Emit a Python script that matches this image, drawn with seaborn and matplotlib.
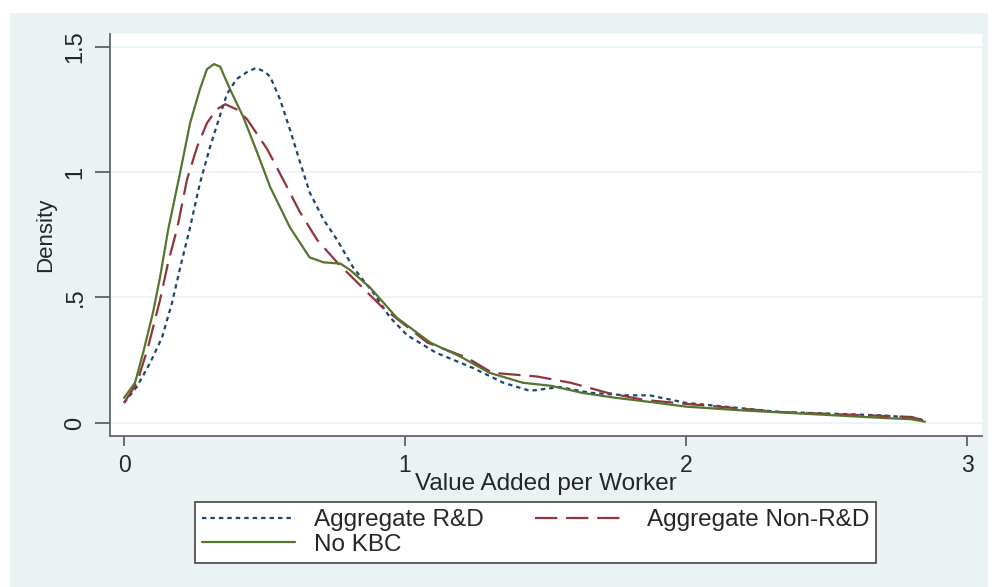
import matplotlib
matplotlib.use("Agg")
import pandas as pd
import seaborn as sns
from matplotlib import pyplot as plt
from matplotlib.patches import Rectangle

# values (kernel density curves)
rd_x = [0.00, 0.046, 0.093, 0.135, 0.171, 0.20, 0.235, 0.27, 0.306, 0.34, 0.366, 0.40, 0.44, 0.47,
        0.50, 0.52, 0.555, 0.59, 0.626, 0.66, 0.71, 0.758, 0.815, 0.886, 0.947, 1.007, 1.11, 1.24,
        1.35, 1.445, 1.55, 1.66, 1.79, 1.87, 2.00, 2.33, 2.70, 2.82, 2.85]
rd_y = [0.08, 0.145, 0.24, 0.34, 0.48, 0.62, 0.78, 0.955, 1.10, 1.22, 1.31, 1.37, 1.40, 1.415,
        1.40, 1.38, 1.29, 1.17, 1.04, 0.92, 0.81, 0.73, 0.62, 0.52, 0.42, 0.35, 0.28, 0.22,
        0.16, 0.128, 0.143, 0.12, 0.11, 0.11, 0.08, 0.044, 0.03, 0.02, 0.008]

nonrd_x = [0.00, 0.046, 0.085, 0.128, 0.157, 0.19, 0.224, 0.26, 0.295, 0.33, 0.36, 0.40, 0.438,
           0.51, 0.566, 0.626, 0.687, 0.758, 0.83, 0.92, 1.00, 1.08, 1.22, 1.31, 1.47, 1.59,
           1.72, 1.85, 2.00, 2.33, 2.60, 2.80, 2.85]
nonrd_y = [0.08, 0.16, 0.30, 0.49, 0.64, 0.78, 0.97, 1.10, 1.195, 1.25, 1.27, 1.25, 1.21,
           1.09, 0.97, 0.84, 0.73, 0.64, 0.56, 0.46, 0.39, 0.32, 0.26, 0.20, 0.185, 0.16,
           0.12, 0.092, 0.076, 0.044, 0.032, 0.024, 0.008]

nokbc_x = [0.00, 0.039, 0.068, 0.103, 0.128, 0.157, 0.20, 0.235, 0.27, 0.295, 0.32, 0.342, 0.377,
           0.424, 0.473, 0.52, 0.59, 0.66, 0.71, 0.77, 0.804, 0.875, 0.97, 1.09, 1.196, 1.30,
           1.42, 1.52, 1.63, 1.75, 1.87, 2.00, 2.20, 2.45, 2.70, 2.80, 2.85]
nokbc_y = [0.10, 0.16, 0.28, 0.44, 0.58, 0.77, 1.00, 1.195, 1.33, 1.41, 1.43, 1.42, 1.33,
           1.22, 1.08, 0.94, 0.78, 0.66, 0.64, 0.635, 0.61, 0.54, 0.42, 0.32, 0.265, 0.20,
           0.16, 0.148, 0.12, 0.10, 0.084, 0.065, 0.05, 0.035, 0.02, 0.015, 0.005]

series_names = ["Aggregate R&D", "Aggregate Non-R&D", "No KBC"]
x_ticks = [0, 1, 2, 3]
y_ticks = [0, 0.5, 1, 1.5]
y_tick_labels = ["0", ".5", "1", "1.5"]

colors = {"Aggregate R&D": "#1a476f", "Aggregate Non-R&D": "#90353b", "No KBC": "#55752f"}
dash_styles = {"Aggregate R&D": (2.0, 1.8), "Aggregate Non-R&D": (10, 4), "No KBC": ""}

frames = []
for name, xs, ys in zip(series_names, [rd_x, nonrd_x, nokbc_x], [rd_y, nonrd_y, nokbc_y]):
    frames.append(pd.DataFrame({"x": xs, "density": ys, "series": name}))
df = pd.concat(frames, ignore_index=True)

sns.set_style("white")
plt.rcParams["font.family"] = ["Liberation Sans", "DejaVu Sans"]

bg = "#eaf2f3"
fig = plt.figure(figsize=(9.95, 5.87), dpi=100, facecolor="white")
fig.patches.append(Rectangle((10 / 995, 0), 978 / 995, 1 - 13 / 587, transform=fig.transFigure,
                             facecolor=bg, edgecolor="none", zorder=-5))
ax = fig.add_axes([110 / 995, 1 - 436 / 587, 872 / 995, 402 / 587])
ax.set_zorder(2)
ax.set_facecolor("white")

sns.lineplot(data=df, x="x", y="density", hue="series", style="series", hue_order=series_names,
             style_order=series_names, palette=colors, dashes=dash_styles, estimator=None,
             sort=False, linewidth=1.6, ax=ax)

ax.set_xlim(-0.05, 3.053)
ax.set_ylim(-0.052, 1.55)
ax.set_xticks(x_ticks)
ax.set_yticks(y_ticks)
ax.set_yticklabels(y_tick_labels, rotation=90, va="center")
ax.grid(axis="y", color=bg, linewidth=1.2)
ax.grid(axis="x", visible=False)
ax.set_axisbelow(True)

for side in ["top", "right"]:
    ax.spines[side].set_visible(False)
for side in ["left", "bottom"]:
    ax.spines[side].set_color("#666666")
    ax.spines[side].set_linewidth(1.3)
ax.tick_params(axis="x", length=7, width=1.2, color="#555555", labelsize=16.5, pad=6)
ax.tick_params(axis="y", length=11, width=1.2, color="#555555", labelsize=17, pad=6)
ax.tick_params(left=True, bottom=True)

ax.set_xlabel("Value Added per Worker", fontsize=17.5, labelpad=-3)
ax.set_ylabel("Density", fontsize=16, labelpad=6)

handles, labels = ax.get_legend_handles_labels()
ax.get_legend().remove()
lookup = dict(zip(labels, handles))
order = ["Aggregate R&D", "No KBC", "Aggregate Non-R&D"]
leg = fig.legend([lookup[k] for k in order], order, loc="upper left", ncol=2,
                 bbox_to_anchor=(195 / 995, 1 - 502 / 587), borderaxespad=0, fontsize=17.5,
                 handlelength=3.8, handletextpad=0.8, columnspacing=2.1, labelspacing=0.1,
                 borderpad=0.3, fancybox=False, framealpha=1)
leg.get_frame().set_edgecolor("#444444")
leg.get_frame().set_linewidth(1.2)

fig.savefig("out.png", dpi=100, facecolor="white")
